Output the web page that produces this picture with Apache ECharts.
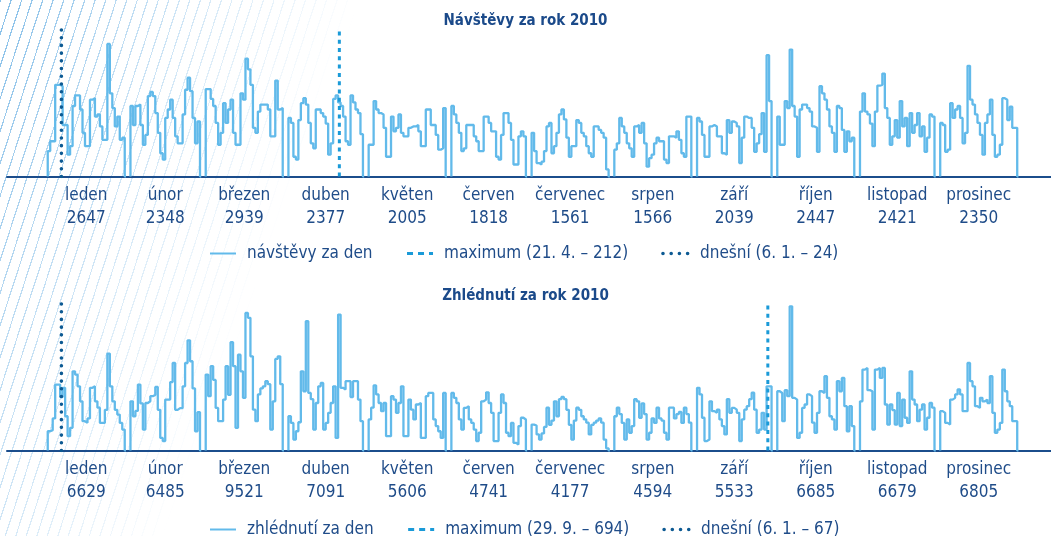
<!DOCTYPE html>
<html>
<head>
<meta charset="utf-8">
<title>Návštěvy a zhlédnutí 2010</title>
<script src="https://cdn.jsdelivr.net/npm/echarts@6/dist/echarts.min.js"></script>
<style>
  html, body { margin: 0; padding: 0; background: #fff; }
  #wrap { position: relative; width: 1051px; height: 536px; overflow: hidden; }
  #hatch {
    position: absolute; left: 0; top: 0; width: 1051px; height: 536px;
    background: repeating-linear-gradient(108deg, rgba(95, 170, 225, 0.75) 0 1.2px, transparent 1.2px 10px);
    -webkit-mask-image: linear-gradient(110deg, #000 0, rgba(0,0,0,0.55) 120px, rgba(0,0,0,0.25) 230px, transparent 340px);
    mask-image: linear-gradient(110deg, #000 0, rgba(0,0,0,0.55) 120px, rgba(0,0,0,0.25) 230px, transparent 340px);
  }
  #chart { position: absolute; left: 0; top: 0; width: 1051px; height: 536px; }
</style>
</head>
<body>
<div id="wrap">
  <div id="hatch"></div>
  <div id="chart"></div>
</div>
<script>
  // mesice a souhrny
  const mesice = ['leden', 'únor', 'březen', 'duben', 'květen', 'červen', 'červenec', 'srpen', 'září', 'říjen', 'listopad', 'prosinec'];
  const navstevyMesic = [2647, 2348, 2939, 2377, 2005, 1818, 1561, 1566, 2039, 2447, 2421, 2350];
  const zhlednutiMesic = [6629, 6485, 9521, 7091, 5606, 4741, 4177, 4594, 5533, 6685, 6679, 6805];

  // denni hodnoty (odhad z obrazku), jeden radek = jeden mesic
  const navstevyDen = [
    [36,50,50,130,130,128,73,73,31,43,100,115,115,95,62,43,43,109,111,85,88,71,52,52,188,118,97,71,85,52,55],
    [100,73,100,102,73,45,59,114,120,114,90,62,33,24,83,95,109,83,57,47,47,88,123,140,121,83,47,78],
    [124,124,110,100,76,45,62,104,76,95,109,62,45,45,118,109,167,152,130,69,62,92,102,102,102,95,57,57,136,95,97],
    [83,76,28,24,80,104,111,102,76,47,40,95,95,90,85,75,31,47,110,115,105,100,85,50,45,115,105,95,90,60],
    [45,45,107,95,90,88,69,28,28,85,64,69,88,62,57,57,69,71,71,73,64,43,43,95,95,73,73,59,38,40,97],
    [100,88,76,62,36,40,73,73,73,57,50,36,36,85,85,76,64,64,28,24,59,90,90,76,52,17,17,57,64,57],
    [62,36,19,17,21,36,71,76,33,43,62,88,95,81,55,28,43,43,80,76,62,57,43,33,28,71,71,66,62,55,10],
    [38,47,83,71,62,47,40,28,71,73,62,76,47,14,26,31,47,55,50,50,24,19,57,57,55,64,52,33,28,85,85],
    [83,78,59,28,28,71,73,71,57,57,33,31,80,62,78,76,71,19,55,85,83,83,69,35,47,60,90,35,172,107],
    [85,45,45,107,97,180,100,85,28,95,102,102,97,92,71,69,35,128,118,109,95,71,62,35,100,97,66,35,64,50,55],
    [92,118,92,88,75,43,92,129,130,146,97,83,45,57,80,55,107,71,83,43,90,62,73,90,57,71,35,55,88,85],
    [76,73,35,38,104,83,95,100,83,47,62,157,109,102,88,76,59,31,76,88,109,59,28,31,45,111,109,80,99,69,69]
  ];
  const zhlednutiDen = [
    [90,95,150,308,308,250,293,160,67,106,370,355,300,230,137,130,150,293,300,230,200,129,129,190,453,300,230,190,168,129,98],
    [230,160,185,308,220,98,222,230,254,260,297,190,59,44,238,238,320,409,190,198,198,300,409,515,417,290,90,179],
    [355,254,394,330,199,137,137,238,394,260,506,394,106,448,370,246,643,620,440,191,137,262,290,300,324,310,98,230,428,440,310],
    [160,129,51,90,132,370,277,604,269,240,98,222,300,316,98,129,176,222,300,59,635,293,285,324,324,250,324,324,238,137],
    [145,200,304,262,222,184,222,67,67,254,238,176,222,300,67,67,238,191,145,215,222,59,59,254,269,269,145,114,90,59,269],
    [269,246,222,145,98,199,207,145,129,98,44,83,230,238,272,222,176,44,44,176,262,222,83,67,129,36,28,114,153,145],
    [121,117,75,51,80,110,200,120,140,230,160,240,250,240,190,120,51,140,200,190,160,145,130,75,120,130,140,150,130,51,10],
    [160,200,170,129,51,145,83,114,240,230,153,220,170,51,83,150,129,200,150,140,83,51,200,200,150,170,180,129,200,170,130],
    [293,262,153,44,51,230,184,176,191,145,114,75,240,176,199,191,176,44,145,191,207,240,270,191,83,98,176,98,300,300],
    [277,269,137,282,254,674,246,238,59,83,199,215,262,254,130,83,176,277,269,347,246,160,145,98,324,277,339,207,90,207,114],
    [230,378,386,282,277,98,378,386,339,386,215,121,215,189,121,269,114,238,153,129,370,238,215,137,191,215,98,153,222,200],
    [184,176,129,121,238,246,262,285,262,184,184,409,324,300,207,199,246,230,238,222,347,176,83,98,129,378,277,230,207,137,137]
  ];

  const maxNavstevy = 212;   // 21. 4.
  const maxZhlednuti = 694;  // 29. 9.
  const GAP = 2.3;           // mezera mezi mesici (ve dnech)

  const FONT = "'DejaVu Sans Condensed', 'Liberation Sans Narrow', sans-serif";
  const TEXT = '#1f4c89';
  const LINE = '#62baea';

  function monthStart(m) {
    let d = 0;
    for (let i = 0; i < m; i++) d += navstevyDen[i].length;
    return d + m * GAP;
  }
  function dayX(m, den) {
    return monthStart(m) + den - 0.5;
  }
  function stepData(rows) {
    const out = [];
    rows.forEach((days, m) => {
      const s = monthStart(m);
      out.push([s, 0]);
      days.forEach((v, i) => out.push([s + i, v]));
      out.push([s + days.length, 0]);
      out.push([s + days.length + 0.5, null]);
    });
    return out;
  }
  const centers = mesice.map((_, m) => monthStart(m) + navstevyDen[m].length / 2);

  function xAxisFor(gi, sums) {
    return {
      type: 'value', gridIndex: gi, min: -16.4, max: 403.9,
      axisLine: { show: true, lineStyle: { color: '#1b4d8c', width: 2 } },
      axisTick: { show: false },
      splitLine: { show: false },
      axisLabel: {
        customValues: centers,
        margin: 8,
        color: TEXT, fontFamily: FONT, fontSize: 17, lineHeight: 23,
        formatter: function (val) {
          let k = 0;
          centers.forEach((c, i) => { if (Math.abs(c - val) < Math.abs(centers[k] - val)) k = i; });
          return mesice[k] + '\n' + sums[k];
        }
      }
    };
  }
  function yAxisFor(gi, max) {
    return { type: 'value', gridIndex: gi, min: 0, max: max, show: false, splitLine: { show: false } };
  }
  function markerSeries(name, gi, x, max, style) {
    return {
      name: name, type: 'line', xAxisIndex: gi, yAxisIndex: gi,
      symbol: 'none', silent: true, z: 5,
      data: [[x, 0], [x, max]],
      lineStyle: style, itemStyle: { color: style.color }
    };
  }
  function dashed() { return { color: '#1a9ad8', width: 3, type: [4, 4.3] }; }
  function dotted() { return { color: '#0d5a93', width: 3.6, type: [0.01, 7.7], cap: 'round' }; }

  const names = [
    ['návštěvy za den', 'maximum (21. 4. – 212)', 'dnešní (6. 1. – 24)'],
    ['zhlédnutí za den', 'maximum (29. 9. – 694)', 'dnešní (6. 1. – 67)']
  ];
  function legendItems(n) {
    return [
      { name: n[0] },
      { name: n[1], lineStyle: { type: [6, 5], width: 3 } },
      { name: n[2], lineStyle: { type: [0.01, 8.2], width: 3.6, cap: 'round', color: '#0d5a93' } }
    ];
  }

  const chart = echarts.init(document.getElementById('chart'), null, { renderer: 'canvas' });
  chart.setOption({
    animation: false,
    backgroundColor: 'transparent',
    title: [
      { text: 'Návštěvy za rok 2010', left: 'center', top: 14, padding: 0,
        textStyle: { fontFamily: FONT, fontSize: 15, fontWeight: 'bold', color: '#1b4a8a' } },
      { text: 'Zhlédnutí za rok 2010', left: 'center', top: 289, padding: 0,
        textStyle: { fontFamily: FONT, fontSize: 15, fontWeight: 'bold', color: '#1b4a8a' } }
    ],
    grid: [
      { left: 7, right: 0, top: 27, height: 149.5 },
      { left: 7, right: 0, top: 302, height: 148.5 }
    ],
    legend: names.map((n, i) => ({
      data: legendItems(n), left: 209, top: i === 0 ? 245 : 521, padding: 0,
      itemWidth: 26, itemHeight: 12, itemGap: 33, selectedMode: false,
      itemStyle: { opacity: 0, color: 'rgba(0,0,0,0)', borderWidth: 0 },
      textStyle: { fontFamily: FONT, fontSize: 17, color: TEXT, padding: [0, 0, 0, 6] }
    })),
    xAxis: [xAxisFor(0, navstevyMesic), xAxisFor(1, zhlednutiMesic)],
    yAxis: [yAxisFor(0, maxNavstevy), yAxisFor(1, maxZhlednuti)],
    series: [
      { name: names[0][0], type: 'line', xAxisIndex: 0, yAxisIndex: 0, step: 'end', symbol: 'none', silent: true,
        data: stepData(navstevyDen), lineStyle: { color: LINE, width: 2.3 }, itemStyle: { color: LINE } },
      markerSeries(names[0][1], 0, dayX(3, 21), maxNavstevy, dashed()),
      markerSeries(names[0][2], 0, dayX(0, 6), maxNavstevy, dotted()),
      { name: names[1][0], type: 'line', xAxisIndex: 1, yAxisIndex: 1, step: 'end', symbol: 'none', silent: true,
        data: stepData(zhlednutiDen), lineStyle: { color: LINE, width: 2.3 }, itemStyle: { color: LINE } },
      markerSeries(names[1][1], 1, dayX(8, 29), maxZhlednuti, dashed()),
      markerSeries(names[1][2], 1, dayX(0, 6), maxZhlednuti, dotted())
    ]
  });
</script>
</body>
</html>
